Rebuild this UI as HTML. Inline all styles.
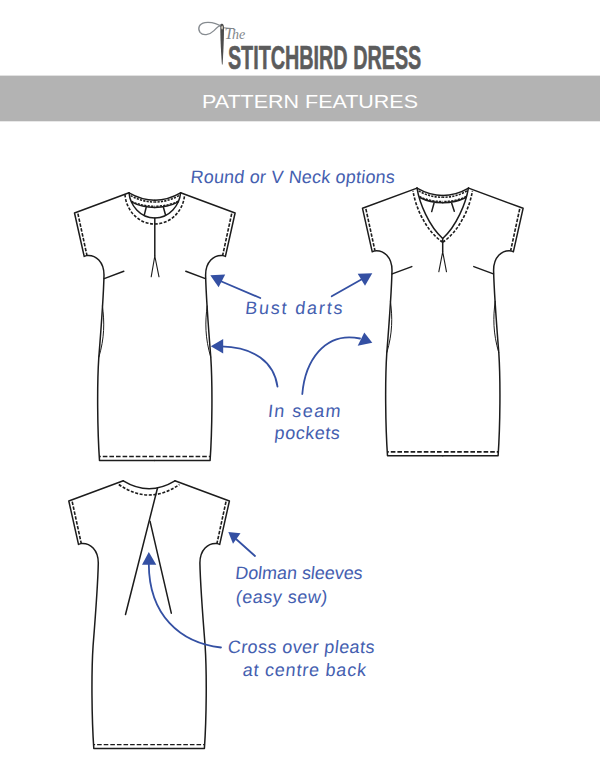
<!DOCTYPE html>
<html lang="en">
<head>
<meta charset="utf-8">
<title>The Stitchbird Dress - Pattern Features</title>
<style>
html,body{margin:0;padding:0;background:#fff;}
body{width:600px;height:780px;overflow:hidden;}
svg{display:block;}
.ln{fill:none;stroke:#1c1c1c;stroke-width:1.5;stroke-linecap:round;stroke-linejoin:round;}
.ds{fill:none;stroke:#1c1c1c;stroke-width:1.6;stroke-dasharray:3 1.6;}
.ar{fill:none;stroke:#3450a3;stroke-width:1.8;stroke-linecap:round;}
.ah{fill:#3450a3;stroke:none;}
.hw{font-family:"Liberation Sans","DejaVu Sans",sans-serif;font-size:18px;fill:#4560b0;}
</style>
</head>
<body>
<svg width="600" height="780" viewBox="0 0 600 780">
<rect x="0" y="0" width="600" height="780" fill="#ffffff"/>
<defs>
  <!-- half body (left side), dress 1 coordinates, centre x=154.8 -->
  <g id="halfbody">
    <path class="ln" d="M154.8 460.5 L99.5 460.5 C97.4 430 97 385 98.8 357.5 C101 330 103.6 295 104 275 C104 262 96 254.5 86.5 255.6 L84.2 256.4 L74.5 213 L129 192.8"/>
    <path class="ds" style="stroke-width:var(--hemw,1.8);stroke-dasharray:4.6 2" d="M153.6 456.6 L99.5 456.6"/>
    <path class="ds" style="stroke-dasharray:3.5 1.5" d="M77.9 213.6 L86.9 255.2"/>
  </g>
  <g id="body">
    <use href="#halfbody"/>
    <use href="#halfbody" transform="translate(309.6,0) scale(-1,1)"/>
  </g>
  <g id="halffront">
    <!-- pocket crescent -->
    <path class="ln" style="stroke-width:1" d="M102.4 306 C104.6 322 104.6 338 98.9 357"/>
    <!-- bust dart -->
    <path class="ln" d="M104.2 278.6 L123.8 271.3"/>
    <!-- back neck -->
    <path class="ln" d="M129 192.8 Q142 200.2 154.8 200.2"/>
    <path class="ds" style="stroke-width:1.6;stroke-dasharray:2.2 1.2" d="M130.6 195.6 Q142 202 154.8 202"/>
    <path class="ds" style="stroke-width:1.4;stroke-dasharray:2.2 1.2" d="M131.4 201.2 Q142 206.2 154.8 206.2"/>
    <path class="ln" d="M131.7 202.2 Q142 207.4 154.8 207.4"/>
  </g>
</defs>

<!-- header -->
<g id="logo">
  <path d="M222 27.2 C218 24 211 22 205 22.6 C199 23.5 197.4 28.5 200 32.4 C203 36 209 35.4 214 30.6 C217 27.6 219.4 25.4 221.6 24.4" fill="none" stroke="#868b90" stroke-width="1.3" stroke-linecap="round"/>
  <path d="M223.6 27.8 L231.6 28.5" fill="none" stroke="#80858a" stroke-width="1" stroke-linecap="round"/>
  <path d="M222 23.8 C223.3 23.8 224 25.5 224 28 C224 40 223.2 55 222.6 64.6 L221.9 64.6 C221.2 55 220.3 40 220.3 28 C220.3 25.5 220.8 23.8 222 23.8 Z" fill="#4d4d4d"/>
  <ellipse cx="222.1" cy="27.6" rx="0.7" ry="1.9" fill="#e8e0d0"/>
  <text x="224.6" y="38.6" font-family="'Liberation Serif',serif" font-style="italic" fill="#80858a"><tspan font-size="16">T</tspan><tspan font-size="14" dx="-1.6">he</tspan></text>
  <text x="227.9" y="69.4" font-family="'Liberation Sans',sans-serif" font-weight="bold" font-size="33.5" fill="#5c5c5c" stroke="#5c5c5c" stroke-width="0.6" textLength="193.4" lengthAdjust="spacingAndGlyphs">STITCHBIRD DRESS</text>
</g>
<rect x="0" y="75.6" width="600" height="45.7" fill="#b3b3b3"/>
<text x="202" y="108.4" font-family="'Liberation Sans',sans-serif" font-size="18.7" fill="#ffffff" textLength="216" lengthAdjust="spacingAndGlyphs">PATTERN FEATURES</text>

<g id="dress1" style="--hemw:1.5">
  <use href="#body"/>
  <use href="#halffront"/>
  <use href="#halffront" transform="translate(309.6,0) scale(-1,1)"/>
  <path class="ln" d="M129 192.8 C130 205 140 218 154.8 218 C169.6 218 179.6 205 180.6 192.8"/>
  <path class="ds" d="M125 194.5 C126 210 138 224 154.8 224 C171.6 224 183.6 210 184.6 194.5"/>
  <path class="ln" d="M146.2 207.3 L144.2 215.4 M163.4 207.3 L165.6 215.2"/>
  <path class="ln" d="M154.8 218 L154.8 256"/>
  <path class="ln" style="stroke-width:1.1" d="M154.8 256 L151.2 276.8 M154.8 256 L159 276.8"/>
</g>
<g id="dress2" transform="translate(288,-4.7)">
  <use href="#body"/>
  <use href="#halffront"/>
  <use href="#halffront" transform="translate(309.6,0) scale(-1,1)"/>
  <path class="ln" d="M129 192.8 C131.5 208 141 231 154.7 243.2 C168.4 231 177.9 208 180.4 192.8"/>
  <path class="ds" d="M154.7 246.9 C138 236 127.5 212 125 195.5 M154.7 246.9 C171.4 236 181.9 212 184.4 195.5"/>
  <path class="ln" d="M146 208 L143.7 216.3 M163.7 208 L166.3 216"/>
  <path class="ln" d="M154.7 243.2 L154.7 256.5"/>
  <path class="ln" style="stroke-width:1.1" d="M154.7 256.5 L150.8 276.5 M154.7 256.5 L158.5 276.5"/>
</g>
<g id="dress3" transform="translate(-5.7,288)" style="--hemw:1.25">
  <use href="#body"/>
  <path class="ln" d="M129 192.9 Q154.8 208.6 180.6 192.9"/>
  <path class="ds" d="M124.5 196.5 Q154.8 217.5 185.1 196.5"/>
  <path class="ln" d="M163.2 200 L131.2 326.5"/>
  <path class="ln" d="M155.7 233.2 L177 325.2"/>
</g>
<g id="arrows">
  <!-- bust darts -->
  <path class="ar" d="M260.3 298 L218 280"/>
  <path class="ah" d="M210.3 275.2 L225.2 274.6 L218.6 287.2 Z"/>
  <path class="ar" d="M331.7 296.3 L364 278"/>
  <path class="ah" d="M372.3 273.3 L357.7 273.7 L365 285.8 Z"/>
  <!-- pockets -->
  <path class="ar" d="M277.5 386.7 C274 362 254 347 221 346.4"/>
  <path class="ah" d="M210.8 346.2 L223.2 339 L223.2 353.4 Z"/>
  <path class="ar" d="M302.3 394 C305 362 324 331 360 338.5"/>
  <path class="ah" d="M372.3 342.7 L364.3 332.4 L357.7 345.7 Z"/>
  <!-- dolman -->
  <path class="ar" d="M255 556 L236 539"/>
  <path class="ah" d="M228.3 532 L240.5 533.3 L233 543.8 Z"/>
  <!-- cross over -->
  <path class="ar" d="M221 647.5 C180 643 149 615 148.8 564"/>
  <path class="ah" d="M148.8 552 L142 564.8 L156.3 564.8 Z"/>
</g>
<g id="labels" class="hw">
  <text transform="translate(190.0,183.2) skewX(-6)" textLength="204.3" lengthAdjust="spacing">Round or V Neck options</text>
  <text transform="translate(244.7,314.1) skewX(-6)" textLength="97.3" lengthAdjust="spacing">Bust darts</text>
  <text transform="translate(267.4,416.5) skewX(-6)" textLength="72.7" lengthAdjust="spacing">In seam</text>
  <text transform="translate(274.1,438.7) skewX(-6)" textLength="65.2" lengthAdjust="spacing">pockets</text>
  <text transform="translate(234.7,579.2) skewX(-6)" textLength="127.4" lengthAdjust="spacing">Dolman sleeves</text>
  <text transform="translate(235.3,602.7) skewX(-6)" textLength="91.4" lengthAdjust="spacing">(easy sew)</text>
  <text transform="translate(227.3,652.5) skewX(-6)" textLength="146.6" lengthAdjust="spacing">Cross over pleats</text>
  <text transform="translate(242.2,676) skewX(-6)" textLength="123.2" lengthAdjust="spacing">at centre back</text>
</g>
</svg>
</body>
</html>
